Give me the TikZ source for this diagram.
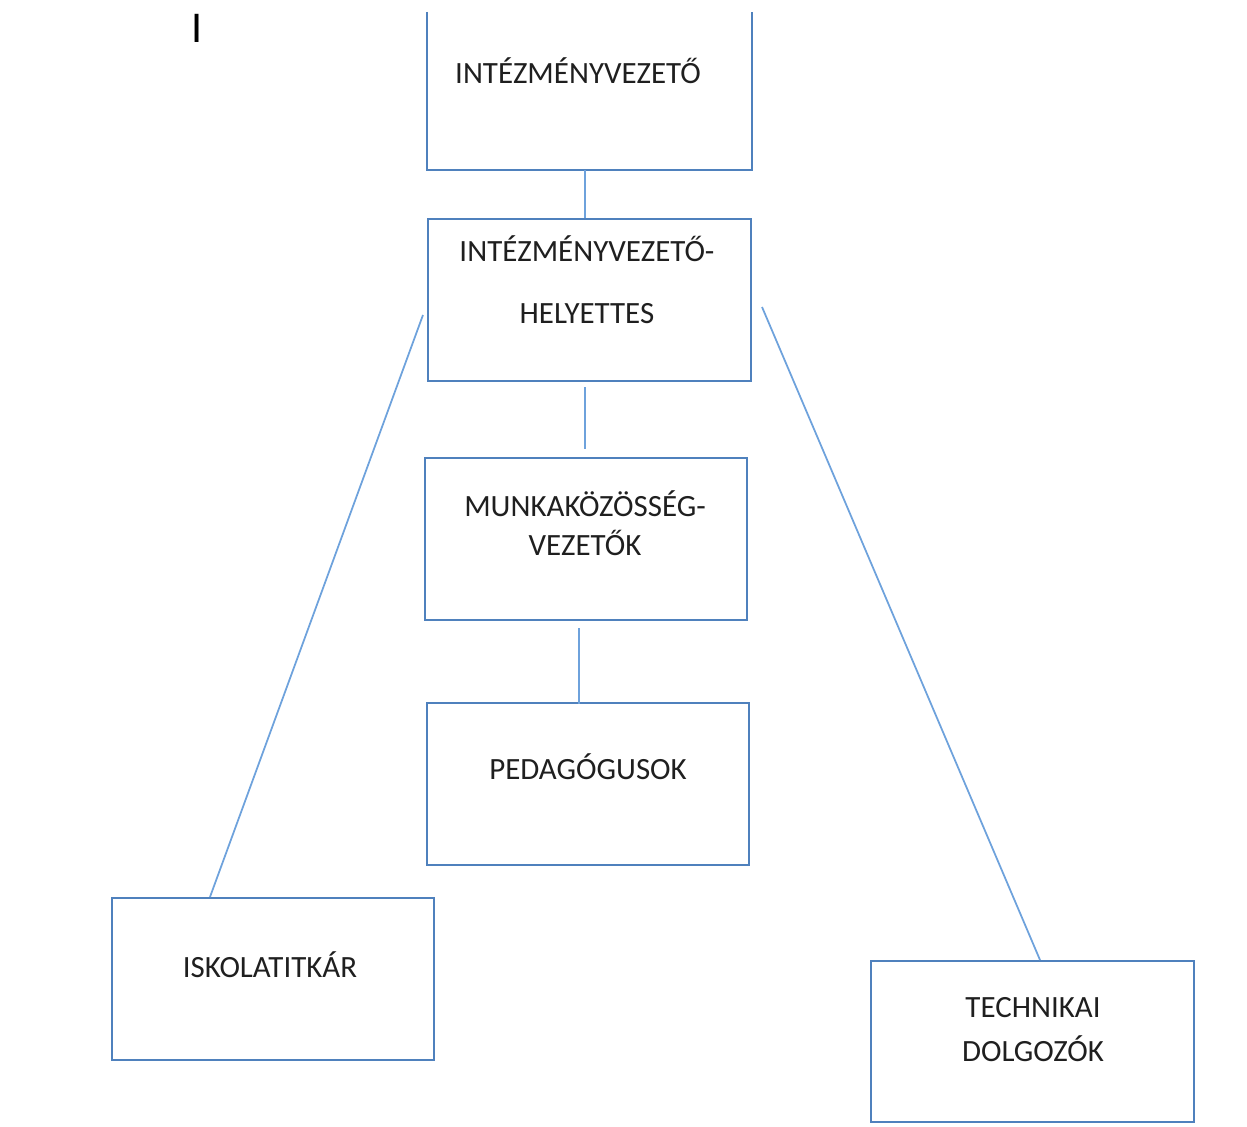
\documentclass[tikz,border=0pt]{standalone}
\usepackage{fontspec}
\setmainfont{Carlito}
\usepackage{tikz}
\usetikzlibrary{calc}
\definecolor{boxblue}{RGB}{79,129,189}
\definecolor{lineblue}{RGB}{110,162,220}

\begin{document}
\begin{tikzpicture}[x=0.02cm, y=-0.02cm,
  box/.style={draw=boxblue, line width=1.2pt, minimum width=6.46cm, minimum height=3.24cm, inner sep=0pt},
  txt/.style={font=\fontsize{17.6}{21}\selectfont, text=black!88, inner sep=0pt, anchor=base},
  link/.style={draw=lineblue, line width=1pt}]
  \useasboundingbox (0,0) rectangle (1247,1126);
  % units are pixels of the page, y runs downwards
  \node[txt, font=\fontsize{25}{30}\selectfont, text=black] (cursor) at (197,42) {I};
  % top box, its upper edge is cut off
  \node[box, draw=none, minimum height=3.12cm] (boss) at (589.5,91) {};
  \draw[boxblue, line width=1.2pt] (boss.north west) |- (boss.south east) -- (boss.north east);
  \node[box] (deputy) at (589.5,300) {};
  \node[box, minimum width=6.44cm] (mkv) at (586,539) {};
  \node[box, minimum width=6.44cm] (ped) at (588,784) {};
  \node[box, minimum width=6.44cm] (titkar) at (273,979) {};
  \node[box, minimum height=3.22cm] (tech) at (1032.5,1041.5) {};
  % labels
  \node[txt] (bossA) at (578,83) {INTÉZMÉNYVEZETŐ};
  \node[txt] (deputyA) at (587,261) {INTÉZMÉNYVEZETŐ-};
  \node[txt] (deputyB) at (587,323) {HELYETTES};
  \node[txt] (mkvA) at (585,516) {MUNKAKÖZÖSSÉG-};
  \node[txt] (mkvB) at (585,555) {VEZETŐK};
  \node[txt] (pedA) at (588,779) {PEDAGÓGUSOK};
  \node[txt] (titkarA) at (270,977) {ISKOLATITKÁR};
  \node[txt] (techA) at (1033,1017) {TECHNIKAI};
  \node[txt] (techB) at (1033,1061) {DOLGOZÓK};
  % connectors
  \draw[link] ($(boss.south)+(-4.5,0)$) -- ($(deputy.north)+(-4.5,0)$);
  \draw[link] ($(deputy.south)+(-4.5,5)$) -- ($(mkv.north)+(-1,-8)$);
  \draw[link] ($(mkv.south)+(-7,7)$) -- ($(ped.north)+(-9,2)$);
  \draw[link] ($(deputy.west)+(-4,15)$) -- ($(titkar.north)+(-63,0)$);
  \draw[link] ($(deputy.east)+(10,7)$) -- ($(tech.north)+(7.5,0)$);
\end{tikzpicture}
\end{document}
